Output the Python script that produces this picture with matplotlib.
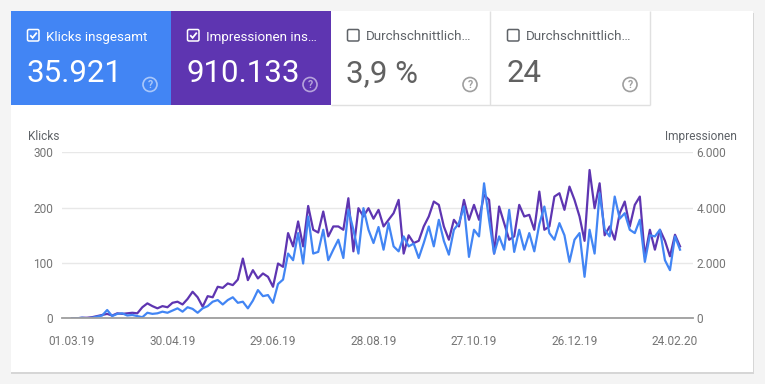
import matplotlib
matplotlib.use("Agg")
import matplotlib.pyplot as plt
import matplotlib.dates as mdates
from matplotlib.patches import Rectangle, Circle, FancyBboxPatch
from matplotlib.lines import Line2D
from matplotlib.transforms import Affine2D
from matplotlib.ticker import FixedLocator, FuncFormatter
import pandas as pd

# ---------------- data ----------------
start_date = "2019-03-01"
step = "3D"

clicks = [0, 0, 1, 0, 1, 3, 5, 15, 4, 8,
          9, 5, 6, 4, 2, 10, 8, 9, 12, 10,
          14, 18, 12, 20, 17, 10, 18, 22, 30, 33,
          25, 33, 38, 28, 30, 18, 32, 51, 40, 42,
          28, 62, 70, 117, 105, 154, 99, 184, 117, 120,
          160, 105, 124, 142, 109, 196, 160, 117, 199, 160,
          136, 165, 124, 172, 130, 121, 148, 130, 135, 109,
          136, 166, 130, 178, 140, 115, 160, 172, 202, 111,
          160, 148, 244, 178, 117, 148, 124, 196, 120, 160,
          124, 154, 121, 170, 202, 154, 142, 172, 150, 102,
          142, 154, 75, 160, 117, 226, 160, 148, 220, 180,
          190, 160, 154, 178, 102, 150, 148, 160, 105, 87,
          148, 124]

impressions = [0, 0, 20, 20, 40, 80, 120, 160, 100, 180,
               160, 180, 200, 180, 400, 540, 440, 360, 440, 400,
               560, 600, 500, 700, 960, 760, 420, 800, 760, 1140,
               1100, 1260, 1200, 1400, 2160, 1380, 1740, 1440, 1620, 1500,
               1140, 1980, 1860, 3080, 2600, 3500, 2600, 4060, 3200, 3100,
               3860, 2960, 3320, 3320, 3200, 4340, 2420, 3980, 3680, 3980,
               3600, 3920, 3320, 3560, 3800, 4280, 2340, 3000, 2720, 2800,
               3320, 3680, 4220, 4100, 3320, 2840, 3560, 3320, 4280, 3560,
               4100, 3560, 4460, 4280, 2340, 4040, 3440, 2840, 2960, 4100,
               3680, 3740, 3200, 4580, 3200, 3320, 4400, 4520, 3920, 4760,
               4280, 3680, 2800, 5360, 3980, 4880, 3000, 3320, 2840, 3800,
               4220, 3320, 4100, 4400, 2240, 3200, 2480, 3200, 2800, 2240,
               3020, 2600]

tick_dates = ["2019-03-01", "2019-04-30", "2019-06-29", "2019-08-28",
              "2019-10-27", "2019-12-26", "2020-02-24"]
left_ticks = [0, 100, 200, 300]
right_ticks = [0, 2000, 4000, 6000]

tab_labels = ["Klicks insgesamt", "Impressionen ins…", "Durchschnittlich…", "Durchschnittlich…"]
tab_values = ["35.921", "910.133", "3,9 %", "24"]
tab_checked = [True, True, False, False]

# ---------------- style ----------------
BLUE = "#4285f4"
PURPLE = "#5e35b1"
GRAY_TXT = "#5f6368"
W, H = 765, 384
FONT = "Roboto"
plt.rcParams["font.family"] = [FONT, "DejaVu Sans"]

fig = plt.figure(figsize=(W / 100, H / 100), dpi=100, facecolor="#f4f4f4")
pix = Affine2D().scale(1 / W, -1 / H).translate(0, 1) + fig.transFigure

def rect(x, y, w, h, fc, ec="none", lw=0, z=-1):
    r = Rectangle((x, y), w, h, transform=pix, facecolor=fc, edgecolor=ec, lw=lw, zorder=z)
    fig.patches.append(r)

def line(xs, ys, color, lw=1, z=2):
    fig.add_artist(Line2D(xs, ys, transform=pix, color=color, lw=lw, zorder=z,
                          solid_capstyle="butt", solid_joinstyle="miter"))

# card + shadow
rect(11, 12.5, 743, 361, "#d6d6d6", z=-4)
rect(11, 11, 742, 361, "white", z=-3)

# tabs
tab_x = [11, 171, 331, 491]
tab_bg = [BLUE, PURPLE, None, None]
for i in range(4):
    x0 = tab_x[i]
    if tab_bg[i]:
        rect(x0, 11, 160, 93.5, tab_bg[i], z=-2)
        fg = "white"
        num_c = "white"
        q_c = (1, 1, 1, 0.55)
    else:
        fg = GRAY_TXT
        num_c = "#616161"
        q_c = "#9e9e9e"
    # checkbox
    cb = FancyBboxPatch((x0 + 16.5, 29.5), 11.5, 11.5, boxstyle="round,pad=0,rounding_size=1.5",
                        transform=pix, facecolor="none", edgecolor=fg, lw=1.1, zorder=3)
    fig.patches.append(cb)
    if tab_checked[i]:
        line([x0 + 19.2, x0 + 21.6, x0 + 25.8], [35.2, 37.8, 32.6], "white", lw=1.3, z=4)
    fig.text(x0 + 35, 40.5, tab_labels[i], transform=pix, color=fg, fontsize=9.6,
             ha="left", va="baseline", zorder=5)
    fig.text(x0 + 15.5, 81.8, tab_values[i], transform=pix, color=num_c, fontsize=22.5,
             ha="left", va="baseline", zorder=5)
    c = Circle((x0 + 139, 84.5), 7, transform=pix, facecolor="none", edgecolor=q_c, lw=1.2, zorder=3)
    fig.patches.append(c)
    fig.text(x0 + 139, 85, "?", transform=pix, color=q_c, fontsize=7.5, fontweight="bold",
             ha="center", va="center", zorder=5)

# borders of white tabs
line([331, 650], [104.5, 104.5], "#e0e0e0", lw=1)
line([490.5, 490.5], [11, 104.5], "#e0e0e0", lw=1)
line([650, 650], [11, 104.5], "#e0e0e0", lw=1)

# ---------------- chart ----------------
dates = pd.date_range(start_date, periods=len(clicks), freq=step)
t0 = pd.Timestamp(start_date)

ax_left, ax_right = 62, 693
ax_top, ax_bot = 152.3, 318.3
ax = fig.add_axes([ax_left / W, 1 - ax_bot / H, (ax_right - ax_left) / W, (ax_bot - ax_top) / H])
ax2 = ax.twinx()
ax.set_zorder(ax2.get_zorder() + 1)
ax.patch.set_visible(False)
ax2.patch.set_visible(False)

ax2.plot(dates, impressions, color=PURPLE, lw=1.6, solid_joinstyle="round")
ax.plot(dates, clicks, color=BLUE, lw=1.6, solid_joinstyle="round")

px_per_day = 1.675
xmin = t0 - pd.Timedelta(days=(72 - ax_left) / px_per_day)
xmax = t0 + pd.Timedelta(days=(ax_right - 72) / px_per_day)
ax.set_xlim(xmin, xmax)
ax.set_ylim(0, 300)
ax2.set_ylim(0, 6000)

ax.xaxis.set_major_locator(FixedLocator([mdates.date2num(pd.Timestamp(d)) for d in tick_dates]))
ax.xaxis.set_major_formatter(mdates.DateFormatter("%d.%m.%y"))
ax.set_yticks(left_ticks)
ax2.set_yticks(right_ticks)
ax2.yaxis.set_major_formatter(FuncFormatter(lambda v, p: f"{int(v):,}".replace(",", ".")))

ax2.grid(axis="y", color="#e8e8e8", lw=1)
ax2.set_axisbelow(True)
for a in (ax, ax2):
    for s in a.spines.values():
        s.set_visible(False)
ax.spines["bottom"].set_visible(True)
ax.spines["bottom"].set_color("#9e9e9e")
ax.spines["bottom"].set_linewidth(1.3)

ax.tick_params(axis="x", length=0, pad=12, labelsize=8.6, labelcolor="#757575")
ax.tick_params(axis="y", length=0, pad=6.5, labelsize=8.6, labelcolor="#757575")
ax2.tick_params(axis="y", length=0, pad=2.5, labelsize=8.6, labelcolor="#757575")
ax2.tick_params(axis="x", length=0)

fig.text(28, 140, "Klicks", transform=pix, color=GRAY_TXT, fontsize=8.6, ha="left", va="baseline")
fig.text(737, 140, "Impressionen", transform=pix, color=GRAY_TXT, fontsize=8.6, ha="right", va="baseline")

fig.savefig("out.png", dpi=100, facecolor=fig.get_facecolor())
